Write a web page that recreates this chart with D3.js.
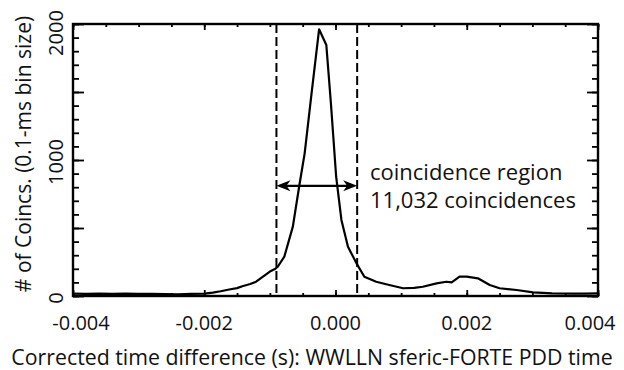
<!DOCTYPE html>
<html><head><meta charset="utf-8">
<script src="https://cdn.jsdelivr.net/npm/d3@7"></script>
<style>body{margin:0;background:#fff}svg{display:block}</style>
</head><body>
<svg id="c" width="624" height="370"></svg>
<script>
const times = [-0.00400,-0.00380,-0.00360,-0.00340,-0.00320,-0.00300,-0.00280,-0.00260,-0.00240,-0.00220,-0.00200,
 -0.00187,-0.00175,-0.00162,-0.00150,-0.00142,-0.00130,-0.00121,-0.00111,-0.00100,-0.00093,-0.00088,-0.00078,
 -0.00065,-0.00055,-0.00047,-0.00036,-0.00025,-0.00014,-0.00007,0.00001,0.00009,0.00019,0.00032,0.00044,0.00062,
 0.00082,0.00103,0.00120,0.00133,0.00154,0.00169,0.00177,0.00189,0.00200,0.00217,0.00235,0.00250,0.00276,0.00301,
 0.00330,0.00360,0.00380,0.00400];
const counts = [18,16,18,15,17,15,16,14,13,15,17,
 25,35,48,58,72,88,105,140,180,196,215,289,
 510,816,1049,1510,1961,1846,1417,877,559,362,240,142,105,
 81,57,60,68,93,105,100,142,142,130,81,57,44,27,
 20,18,17,20];
const xTicks = [-0.004,-0.002,0.000,0.002,0.004];
const xTickLabels = ["-0.004","-0.002","0.000","0.002","0.004"];
const yTicks = [0,1000,2000];
const yTickLabels = ["0","1000","2000"];
const regionBounds = [-0.0009, 0.00033];
const arrowLevel = [810];
const annotation = ["coincidence region","11,032 coincidences"];
const xTitle = "Corrected time difference (s): WWLLN sferic-FORTE PDD time";
const yTitle = "# of Coincs. (0.1-ms bin size)";

const L=73, R=598, T=24, B=296;
const FONT = "'Open Sans', sans-serif";
const svg = d3.select("#c");
const x = d3.scaleLinear().domain([-0.004,0.004]).range([L,R]);
const y = d3.scaleLinear().domain([0,2000]).range([B,T]);

const minorX = d3.range(-0.004,0.00401,0.0005);
const minorY = d3.range(0,2001,100);

function ticks(axis, vals, size){
  return axis.tickValues(vals).tickSize(size).tickFormat("");
}
const g = svg.append("g");
g.append("g").attr("transform",`translate(0,${B})`).call(ticks(d3.axisTop(x),minorX,3));
g.append("g").attr("transform",`translate(0,${T})`).call(ticks(d3.axisBottom(x),minorX,3));
g.append("g").attr("transform",`translate(0,${B})`).call(ticks(d3.axisTop(x),xTicks,6));
g.append("g").attr("transform",`translate(0,${T})`).call(ticks(d3.axisBottom(x),xTicks,6));
g.append("g").attr("transform",`translate(${L},0)`).call(ticks(d3.axisRight(y),minorY,6));
g.append("g").attr("transform",`translate(${R},0)`).call(ticks(d3.axisLeft(y),minorY,6));
g.append("g").attr("transform",`translate(${L},0)`).call(ticks(d3.axisRight(y),d3.range(0,2001,500),11));
g.append("g").attr("transform",`translate(${R},0)`).call(ticks(d3.axisLeft(y),d3.range(0,2001,500),11));
svg.selectAll(".domain").remove();
svg.selectAll(".tick line").attr("stroke","#000").attr("stroke-width",1.8);

// x tick labels (outer labels kept inside the frame edges)
const xShift = (i)=> i===0 ? 8 : (i===xTicks.length-1 ? -8 : 0);
svg.append("g").selectAll("text").data(xTicks).join("text")
  .attr("x",(d,i)=>x(d)+xShift(i)).attr("y",330).attr("text-anchor","middle")
  .attr("font-family",FONT).attr("font-size",20).attr("fill","#111")
  .text((d,i)=>xTickLabels[i]);
// y tick labels rotated
svg.append("g").selectAll("text").data(yTicks).join("text")
  .attr("transform",(d,i)=>{
    let yy = y(d) + 2;
    if(i===yTicks.length-1) yy = y(d)+9;
    return `translate(63,${yy}) rotate(-90)`;
  })
  .attr("text-anchor","middle")
  .attr("font-family",FONT).attr("font-size",20).attr("fill","#111")
  .text((d,i)=>yTickLabels[i]);

// titles
svg.append("text").attr("x",312).attr("y",365).attr("text-anchor","middle")
  .attr("font-family",FONT).attr("font-size",21.3).attr("fill","#111").text(xTitle);
svg.append("text").attr("transform","translate(31,154) rotate(-90)").attr("text-anchor","middle")
  .attr("font-family",FONT).attr("font-size",21).attr("fill","#111").text(yTitle);

// dashed region bounds
svg.append("g").selectAll("line").data(regionBounds).join("line")
  .attr("x1",d=>x(d)).attr("x2",d=>x(d)).attr("y1",T).attr("y2",B)
  .attr("stroke","#000").attr("stroke-width",2).attr("stroke-dasharray","9,4");

// curve
svg.append("path").datum(times.map((t,i)=>[t,counts[i]]))
  .attr("fill","none").attr("stroke","#000").attr("stroke-width",2.2).attr("stroke-linejoin","round")
  .attr("d",d3.line().x(d=>x(d[0])).y(d=>y(d[1])));

// frame
svg.append("rect").attr("x",L).attr("y",T).attr("width",R-L).attr("height",B-T)
  .attr("fill","none").attr("stroke","#000").attr("stroke-width",2.4);

// double arrow
const ay = y(arrowLevel[0]), ax1 = x(regionBounds[0]), ax2 = x(regionBounds[1]);
svg.append("line").attr("x1",ax1+8).attr("x2",ax2-8).attr("y1",ay).attr("y2",ay)
  .attr("stroke","#000").attr("stroke-width",2.2);
svg.append("path").attr("d",`M${ax1},${ay}L${ax1+14},${ay-5.5}L${ax1+10},${ay}L${ax1+14},${ay+5.5}Z`).attr("fill","#000");
svg.append("path").attr("d",`M${ax2},${ay}L${ax2-14},${ay-5.5}L${ax2-10},${ay}L${ax2-14},${ay+5.5}Z`).attr("fill","#000");

// annotation
svg.append("g").selectAll("text").data(annotation).join("text")
  .attr("x",370).attr("y",(d,i)=>180+i*28)
  .attr("font-family",FONT).attr("font-size",22).attr("fill","#111").text(d=>d);
</script>
</body></html>
